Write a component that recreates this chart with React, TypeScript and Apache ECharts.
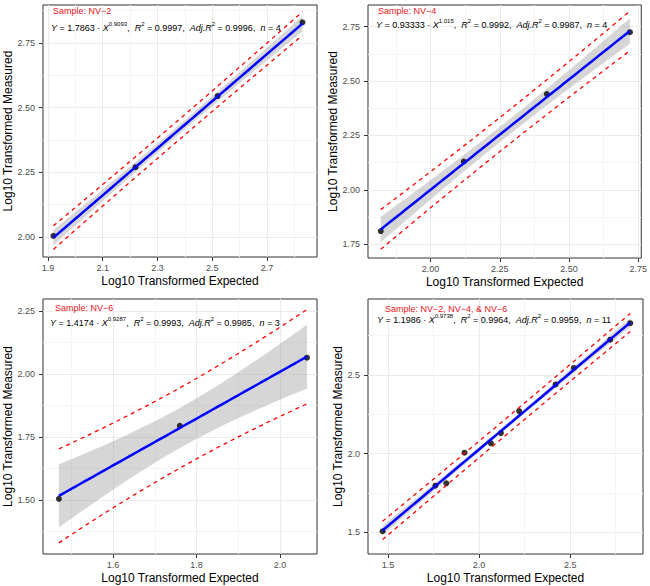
import React, { useEffect, useRef } from "react";
import * as echarts from "echarts";

const FONT = "'Liberation Sans', Arial, Helvetica, sans-serif";

// ---- data ----
const nv2Expected = [1.92, 2.22, 2.52, 2.83];
const nv2Measured = [2.005, 2.27, 2.545, 2.83];
const nv4Expected = [1.82, 2.12, 2.42, 2.72];
const nv4Measured = [1.81, 2.13, 2.44, 2.725];
const nv6Expected = [1.47, 1.76, 2.065];
const nv6Measured = [1.505, 1.795, 2.065];
const allExpected = [...nv2Expected, ...nv4Expected, ...nv6Expected];
const allMeasured = [...nv2Measured, ...nv4Measured, ...nv6Measured];

const panelTitles = [
  "Sample: NV\u22122",
  "Sample: NV\u22124",
  "Sample: NV\u22126",
  "Sample: NV\u22122, NV\u22124, & NV\u22126",
];
const coefA = ["1.7863", "0.93333", "1.4174", "1.1986"];
const coefB = ["0.9093", "1.015", "0.9287", "0.9738"];
const rSquared = ["0.9997", "0.9992", "0.9993", "0.9964"];
const adjRSquared = ["0.9996", "0.9987", "0.9985", "0.9959"];
const nObs = ["4", "4", "3", "11"];
const bandScale = [0.035, 0.07, 0.138, 0.05];

const xTicks = [
  [1.9, 2.1, 2.3, 2.5, 2.7],
  [2.0, 2.25, 2.5, 2.75],
  [1.6, 1.8, 2.0],
  [1.5, 2.0, 2.5],
];
const xMinorTicks = [
  [2.0, 2.2, 2.4, 2.6, 2.8],
  [1.875, 2.125, 2.375, 2.625],
  [1.5, 1.7, 1.9],
  [1.75, 2.25, 2.75],
];
const yTicks = [
  [2.0, 2.25, 2.5, 2.75],
  [1.75, 2.0, 2.25, 2.5, 2.75],
  [1.5, 1.75, 2.0, 2.25],
  [1.5, 2.0, 2.5],
];
const yMinorTicks = [
  [2.125, 2.375, 2.625, 2.875],
  [1.875, 2.125, 2.375, 2.625],
  [1.375, 1.625, 1.875, 2.125],
  [1.75, 2.25, 2.75],
];
const xDecimals = [1, 2, 1, 1];
const yDecimals = [2, 2, 2, 1];
const xRanges = [
  [1.882, 2.883],
  [1.774, 2.761],
  [1.432, 2.089],
  [1.39, 2.9],
];
const yRanges = [
  [1.923, 2.897],
  [1.686, 2.85],
  [1.286, 2.298],
  [1.36, 2.984],
];

// ---- layout ----
const grids = [
  { left: 43, top: 5, width: 274, height: 252 },
  { left: 368, top: 5, width: 275, height: 253 },
  { left: 43, top: 299, width: 274, height: 255 },
  { left: 368, top: 299, width: 275, height: 255 },
];
const titlePos = [
  [53, 6],
  [378, 6],
  [55, 303],
  [385, 304],
];
const eqPos = [
  [51, 21],
  [376, 18],
  [50, 316],
  [377, 313],
];

function App() {
  const ref = useRef<HTMLDivElement>(null);
  useEffect(() => {
    if (!ref.current) return;
    const chart = echarts.init(ref.current, null, { renderer: "svg" });
    const panelsX = [nv2Expected, nv4Expected, nv6Expected, allExpected];
    const panelsY = [nv2Measured, nv4Measured, nv6Measured, allMeasured];

    const xAxes: any[] = [];
    const yAxes: any[] = [];
    const series: any[] = [];
    const graphic: any[] = [];

    for (let i = 0; i < 4; i++) {
      const xs = panelsX[i];
      const ys = panelsY[i];
      const n = xs.length;
      const mean = xs.reduce((s, v) => s + v, 0) / n;
      const sxx = xs.reduce((s, v) => s + (v - mean) * (v - mean), 0);
      const a = Math.log10(parseFloat(coefA[i]));
      const b = parseFloat(coefB[i]);
      const xmin = Math.min(...xs);
      const xmax = Math.max(...xs);
      const k = bandScale[i];
      const fitLine: number[][] = [];
      const ciUp: number[][] = [];
      const ciLo: number[][] = [];
      const piUp: number[][] = [];
      const piLo: number[][] = [];
      const steps = 60;
      for (let s = 0; s <= steps; s++) {
        const x = xmin + ((xmax - xmin) * s) / steps;
        const y = a + b * x;
        const lev = 1 / n + ((x - mean) * (x - mean)) / sxx;
        const ci = k * Math.sqrt(lev);
        const pi = k * Math.sqrt(1 + lev);
        fitLine.push([x, y]);
        ciUp.push([x, y + ci]);
        ciLo.push([x, y - ci]);
        piUp.push([x, y + pi]);
        piLo.push([x, y - pi]);
      }

      const axisFont = { color: "#4d4d4d", fontSize: 9, fontFamily: FONT };
      xAxes.push({
        type: "value",
        gridIndex: i,
        min: xRanges[i][0],
        max: xRanges[i][1],
        position: "bottom",
        axisLine: { show: false },
        axisTick: { show: true, customValues: xTicks[i], length: 4, lineStyle: { color: "#333333", width: 1 } },
        axisLabel: {
          show: true,
          customValues: xTicks[i],
          formatter: (v: number) => v.toFixed(xDecimals[i]),
          margin: 6,
          ...axisFont,
        },
        splitLine: { show: true, lineStyle: { color: "#EBEBEB", width: 1 } },
        name: "Log10 Transformed Expected",
        nameLocation: "middle",
        nameGap: 18,
        nameTextStyle: { color: "#000", fontSize: 12, fontFamily: FONT },
      });
      xAxes.push({
        type: "value",
        gridIndex: i,
        min: xRanges[i][0],
        max: xRanges[i][1],
        position: "top",
        axisLine: { show: false },
        axisTick: { show: false, customValues: xMinorTicks[i] },
        axisLabel: { show: false, customValues: xMinorTicks[i] },
        splitLine: { show: true, lineStyle: { color: "#F4F4F4", width: 1 } },
      });
      yAxes.push({
        type: "value",
        gridIndex: i,
        min: yRanges[i][0],
        max: yRanges[i][1],
        position: "left",
        axisLine: { show: false },
        axisTick: { show: true, customValues: yTicks[i], length: 4, lineStyle: { color: "#333333", width: 1 } },
        axisLabel: {
          show: true,
          customValues: yTicks[i],
          formatter: (v: number) => v.toFixed(yDecimals[i]),
          margin: 8,
          ...axisFont,
        },
        splitLine: { show: true, lineStyle: { color: "#EBEBEB", width: 1 } },
        name: "Log10 Transformed Measured",
        nameLocation: "middle",
        nameGap: 24,
        nameTextStyle: { color: "#000", fontSize: 12, fontFamily: FONT },
      });
      yAxes.push({
        type: "value",
        gridIndex: i,
        min: yRanges[i][0],
        max: yRanges[i][1],
        position: "right",
        axisLine: { show: false },
        axisTick: { show: false, customValues: yMinorTicks[i] },
        axisLabel: { show: false, customValues: yMinorTicks[i] },
        splitLine: { show: true, lineStyle: { color: "#F4F4F4", width: 1 } },
      });

      const xi = 2 * i;
      const yi = 2 * i;
      series.push({
        type: "custom",
        xAxisIndex: xi,
        yAxisIndex: yi,
        silent: true,
        z: 2,
        data: [[mean, a + b * mean]],
        renderItem: (_p: any, api: any) => {
          const pts = ciUp.map((p) => api.coord(p)).concat(ciLo.slice().reverse().map((p) => api.coord(p)));
          return { type: "polygon", shape: { points: pts }, style: { fill: "rgba(153,153,153,0.4)" } };
        },
      });
      series.push({
        type: "scatter",
        xAxisIndex: xi,
        yAxisIndex: yi,
        data: xs.map((x, j) => [x, ys[j]]),
        symbolSize: 6,
        itemStyle: { color: "#000" },
        z: 3,
        silent: true,
      });
      series.push({
        type: "line",
        xAxisIndex: xi,
        yAxisIndex: yi,
        data: fitLine,
        showSymbol: false,
        lineStyle: { color: "#0000FF", width: 2.5 },
        z: 4,
        silent: true,
      });
      for (const band of [piUp, piLo]) {
        series.push({
          type: "line",
          xAxisIndex: xi,
          yAxisIndex: yi,
          data: band,
          showSymbol: false,
          lineStyle: { color: "#FF0000", width: 1.3, type: [4, 4] },
          z: 5,
          silent: true,
        });
      }

      graphic.push({
        type: "text",
        x: titlePos[i][0],
        y: titlePos[i][1],
        z: 100,
        style: { text: panelTitles[i], fill: "#E8141B", fontSize: 9, fontFamily: FONT },
      });
      const eq =
        `{i|Y}{t| = ${coefA[i]} \u00B7 }{i|X}{s|${coefB[i]}}{t|,  }` +
        `{i|R}{s|2}{t| = ${rSquared[i]},  }{i|Adj.R}{s|2}{t| = ${adjRSquared[i]},  }{i|n}{t| = ${nObs[i]}}`;
      graphic.push({
        type: "text",
        x: eqPos[i][0],
        y: eqPos[i][1],
        z: 100,
        style: {
          text: eq,
          fill: "#000",
          fontFamily: FONT,
          rich: {
            t: { fontSize: 9, lineHeight: 14, fontFamily: FONT, fill: "#000" },
            i: { fontSize: 9, lineHeight: 14, fontStyle: "italic", fontFamily: FONT, fill: "#000" },
            s: { fontSize: 6, lineHeight: 8, verticalAlign: "top", fontFamily: FONT, fill: "#000" },
          },
        },
      });
    }

    chart.setOption({
      animation: false,
      backgroundColor: "#fff",
      textStyle: { fontFamily: FONT },
      grid: grids.map((g) => ({
        ...g,
        show: true,
        backgroundColor: "#fff",
        borderColor: "#333333",
        borderWidth: 1,
        containLabel: false,
      })),
      xAxis: xAxes,
      yAxis: yAxes,
      series,
      graphic,
    });
    return () => chart.dispose();
  }, []);
  return (
    <div
      ref={ref}
      style={{ position: "fixed", left: 0, top: 0, width: 650, height: 586, background: "#fff" }}
    />
  );
}

export default App;
